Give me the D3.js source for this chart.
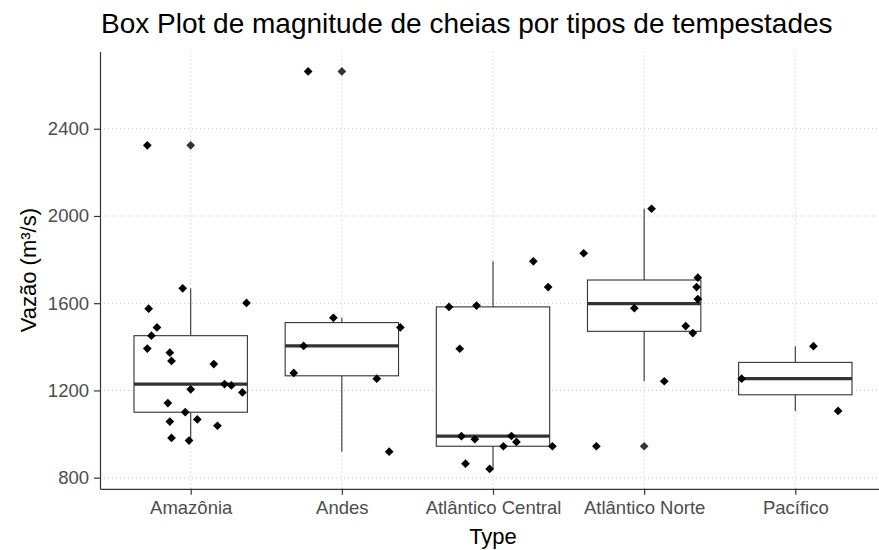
<!DOCTYPE html>
<html>
<head>
<meta charset="utf-8">
<script src="https://cdn.jsdelivr.net/npm/d3@7"></script>
<style>
    body { margin: 0; background: #fff; }
    text { font-family: "Liberation Sans", Arial, sans-serif; }
</style>
</head>
<body>
<div id="grafico"></div>
<script>
// Dados (vazão em m³/s)
var categorias = ["Amazônia", "Andes", "Atlântico Central", "Atlântico Norte", "Pacífico"];

var vazaoAmazonia = [2324, 1668, 1575, 1601, 1489, 1451, 1392, 1373, 1335, 1321, 1229, 1223, 1205, 1191, 1142, 1100, 1057, 1067, 1038, 982, 970];
var jitterAmazonia = [-0.287, -0.053, -0.278, 0.369, -0.223, -0.26, -0.287, -0.138, -0.127, 0.153, 0.224, 0.269, 0.0, 0.342, -0.151, -0.036, -0.138, 0.044, 0.177, -0.127, -0.011];

var vazaoAndes = [2663, 1533, 1489, 1404, 1280, 1254, 919];
var jitterAndes = [-0.223, -0.056, 0.387, -0.253, -0.318, 0.231, 0.313];

var vazaoAtlCentral = [1792, 1674, 1583, 1589, 1391, 990, 976, 991, 964, 944, 944, 864, 840];
var jitterAtlCentral = [0.267, 0.365, -0.291, -0.109, -0.22, -0.209, -0.12, 0.122, 0.155, 0.069, 0.393, -0.182, -0.022];

var vazaoAtlNorte = [2033, 1829, 1717, 1674, 1619, 1577, 1495, 1463, 1242, 944];
var jitterAtlNorte = [0.049, -0.4, 0.355, 0.347, 0.355, -0.065, 0.275, 0.322, 0.133, -0.316];

var vazaoPacifico = [1403, 1254, 1106];
var jitterPacifico = [0.12, -0.355, 0.283];

var ticksY = [800, 1200, 1600, 2000, 2400];

// Junta as séries numa lista para desenhar
var series = [
    { tipo: categorias[0], valores: vazaoAmazonia, jitter: jitterAmazonia },
    { tipo: categorias[1], valores: vazaoAndes, jitter: jitterAndes },
    { tipo: categorias[2], valores: vazaoAtlCentral, jitter: jitterAtlCentral },
    { tipo: categorias[3], valores: vazaoAtlNorte, jitter: jitterAtlNorte },
    { tipo: categorias[4], valores: vazaoPacifico, jitter: jitterPacifico }
];

var width = 879, height = 550;
var painel = { top: 51.5, bottom: 488.8, left: 100, right: 886 };

var svg = d3.select("#grafico")
    .append("svg")
    .attr("width", width)
    .attr("height", height);

// Escalas (expansão de 5% no eixo y, como no ggplot)
var x = d3.scalePoint()
    .domain(categorias)
    .range([painel.left, painel.right])
    .padding(0.6);

var todos = d3.merge(series.map(s => s.valores));
var ext = d3.extent(todos);
var folga = (ext[1] - ext[0]) * 0.05;
var y = d3.scaleLinear()
    .domain([ext[0] - folga, ext[1] + folga])
    .range([painel.bottom, painel.top]);

var passo = x.step();
var larguraCaixa = passo * 0.75;

// Grade pontilhada
svg.append("g").selectAll("line")
    .data(ticksY)
    .enter()
    .append("line")
    .attr("x1", painel.left).attr("x2", painel.right)
    .attr("y1", d => y(d)).attr("y2", d => y(d))
    .attr("stroke", "#c4c4c4")
    .attr("stroke-dasharray", "1,3");

svg.append("g").selectAll("line")
    .data(categorias)
    .enter()
    .append("line")
    .attr("x1", d => x(d)).attr("x2", d => x(d))
    .attr("y1", painel.top).attr("y2", painel.bottom)
    .attr("stroke", "#c4c4c4")
    .attr("stroke-dasharray", "1,3");

// Estatísticas do box plot (quantis tipo 7, como no R)
function estatisticas(valores) {
    var v = valores.slice().sort(d3.ascending);
    var q1 = d3.quantile(v, 0.25);
    var med = d3.quantile(v, 0.5);
    var q3 = d3.quantile(v, 0.75);
    var iqr = q3 - q1;
    var dentro = v.filter(d => d >= q1 - 1.5 * iqr && d <= q3 + 1.5 * iqr);
    var fora = v.filter(d => d < q1 - 1.5 * iqr || d > q3 + 1.5 * iqr);
    return { q1: q1, med: med, q3: q3, min: d3.min(dentro), max: d3.max(dentro), outliers: fora };
}

var caixas = svg.append("g").selectAll("g")
    .data(series)
    .enter()
    .append("g")
    .each(function (s) { s.stats = estatisticas(s.valores); });

// Bigodes
caixas.append("line")
    .attr("x1", d => x(d.tipo)).attr("x2", d => x(d.tipo))
    .attr("y1", d => y(d.stats.q3)).attr("y2", d => y(d.stats.max))
    .attr("stroke", "#333").attr("stroke-width", 1.1);
caixas.append("line")
    .attr("x1", d => x(d.tipo)).attr("x2", d => x(d.tipo))
    .attr("y1", d => y(d.stats.q1)).attr("y2", d => y(d.stats.min))
    .attr("stroke", "#333").attr("stroke-width", 1.1);

// Caixa
caixas.append("rect")
    .attr("x", d => x(d.tipo) - larguraCaixa / 2)
    .attr("width", larguraCaixa)
    .attr("y", d => y(d.stats.q3))
    .attr("height", d => y(d.stats.q1) - y(d.stats.q3))
    .attr("fill", "#fff")
    .attr("stroke", "#333")
    .attr("stroke-width", 1.1);

// Mediana
caixas.append("line")
    .attr("x1", d => x(d.tipo) - larguraCaixa / 2)
    .attr("x2", d => x(d.tipo) + larguraCaixa / 2)
    .attr("y1", d => y(d.stats.med)).attr("y2", d => y(d.stats.med))
    .attr("stroke", "#333").attr("stroke-width", 3.2);

var losango = d3.symbol().type(d3.symbolSquare).size(38);

// Outliers no centro da categoria
caixas.selectAll(".outlier")
    .data(d => d.stats.outliers.map(v => ({ tipo: d.tipo, v: v })))
    .enter()
    .append("path")
    .attr("class", "outlier")
    .attr("d", losango)
    .attr("transform", d => "translate(" + x(d.tipo) + "," + y(d.v) + ") rotate(45)")
    .attr("fill", "#333");

// Pontos com jitter
var pontos = [];
series.forEach(function (s) {
    s.valores.forEach(function (v, i) {
        pontos.push({ tipo: s.tipo, v: v, dx: s.jitter[i] });
    });
});

svg.append("g").selectAll("path")
    .data(pontos)
    .enter()
    .append("path")
    .attr("d", losango)
    .attr("transform", d => "translate(" + (x(d.tipo) + d.dx * passo) + "," + y(d.v) + ") rotate(45)")
    .attr("fill", "#000");

// Eixos
var eixoY = svg.append("g")
    .attr("transform", "translate(" + painel.left + ",0)")
    .call(d3.axisLeft(y).tickValues(ticksY).tickFormat(d3.format("d"))
        .tickSizeInner(6).tickSizeOuter(0).tickPadding(5));

var eixoX = svg.append("g")
    .attr("transform", "translate(0," + painel.bottom + ")")
    .call(d3.axisBottom(x).tickSizeInner(6).tickSizeOuter(0).tickPadding(6));

[eixoY, eixoX].forEach(function (e) {
    e.select(".domain").attr("stroke", "#333").attr("stroke-width", 1.2);
    e.selectAll(".tick line").attr("stroke", "#333").attr("stroke-width", 1.2);
    e.selectAll(".tick text")
        .attr("fill", "#4d4d4d")
        .style("font-size", "18.5px")
        .style("font-family", "'Liberation Sans', Arial, sans-serif");
});

// Títulos
svg.append("text")
    .attr("x", 101)
    .attr("y", 33)
    .style("font-size", "28px")
    .attr("fill", "#000")
    .text("Box Plot de magnitude de cheias por tipos de tempestades");

svg.append("text")
    .attr("x", (painel.left + painel.right) / 2)
    .attr("y", 544)
    .attr("text-anchor", "middle")
    .style("font-size", "22px")
    .attr("fill", "#000")
    .text("Type");

svg.append("text")
    .attr("transform", "translate(36," + ((painel.top + painel.bottom) / 2) + ") rotate(-90)")
    .attr("text-anchor", "middle")
    .style("font-size", "22px")
    .attr("fill", "#000")
    .text("Vazão (m³/s)");
</script>
</body>
</html>
